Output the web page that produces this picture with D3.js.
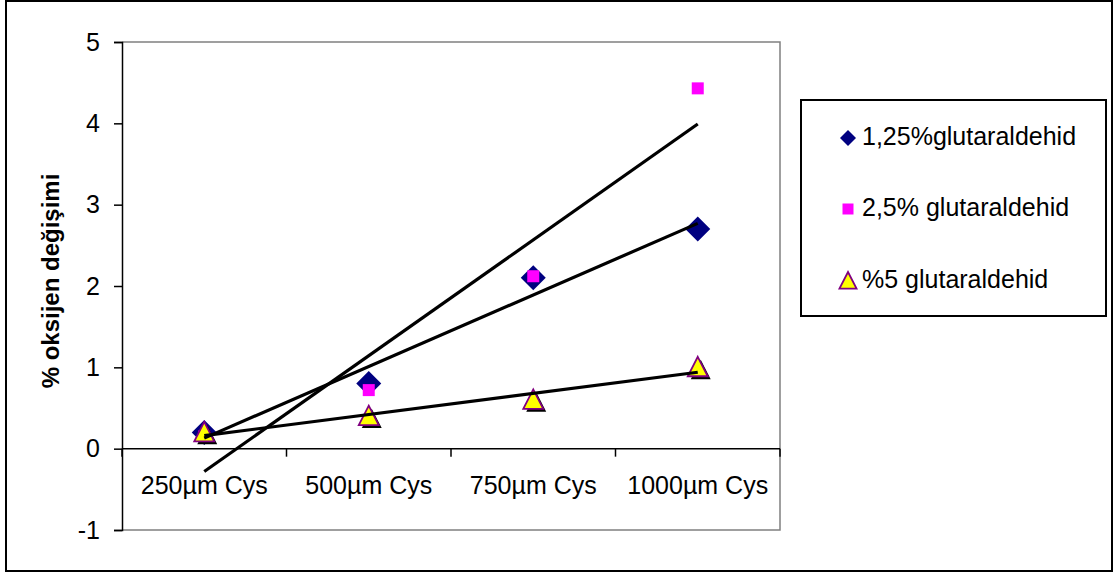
<!DOCTYPE html>
<html>
<head>
<meta charset="utf-8">
<script src="https://cdn.jsdelivr.net/npm/d3@7/dist/d3.min.js"></script>
<style>
  html, body { margin: 0; padding: 0; background: #fff; }
  svg { display: block; font-family: "Liberation Sans", Arial, sans-serif; }
</style>
</head>
<body>
<svg id="chart" width="1118" height="577"></svg>
<script>
// Category labels and the three measured series
const categories = ["250µm Cys", "500µm Cys", "750µm Cys", "1000µm Cys"];
const seriesNames = ["1,25%glutaraldehid", "2,5% glutaraldehid", "%5 glutaraldehid"];
const glut125 = [0.2, 0.8, 2.1, 2.7];
const glut25 = [0.15, 0.72, 2.12, 4.43];
const glut5 = [0.2, 0.4, 0.6, 1.0];
const yTicks = [-1, 0, 1, 2, 3, 4, 5];

const svg = d3.select("#chart");
const plot = { left: 122, right: 780, top: 42, bottom: 530 };
const labelSize = 25;

// Outer chart frame
svg.append("rect")
  .attr("x", 6).attr("y", 1).attr("width", 1106).attr("height", 570)
  .attr("fill", "#fff").attr("stroke", "#000").attr("stroke-width", 2);

const xBand = d3.scaleBand().domain(categories).range([plot.left, plot.right]);
const xPos = d => xBand(d) + xBand.bandwidth() / 2;
const y = d3.scaleLinear().domain([-1, 5]).range([plot.bottom, plot.top]);

// Plot-area border (top, right, bottom in grey)
svg.append("path")
  .attr("d", `M${plot.left},${plot.top}H${plot.right}V${plot.bottom}H${plot.left}`)
  .attr("fill", "none").attr("stroke", "#808080").attr("stroke-width", 1.5);

// Y axis
const yAxis = d3.axisLeft(y).tickValues(yTicks).tickSize(8).tickPadding(14).tickFormat(d => String(d));
const yg = svg.append("g").attr("transform", `translate(${plot.left},0)`).call(yAxis);
yg.select(".domain").attr("stroke", "#000").attr("stroke-width", 1.5);
yg.selectAll(".tick line").attr("stroke", "#000").attr("stroke-width", 1.5);
yg.selectAll(".tick text").attr("font-size", labelSize).attr("fill", "#000")
  .attr("font-family", "'Liberation Sans', Arial, sans-serif");

// X axis at value 0, with tick marks on the category boundaries
const xg = svg.append("g").attr("transform", `translate(0,${y(0)})`);
xg.append("line").attr("x1", plot.left).attr("x2", plot.right)
  .attr("stroke", "#000").attr("stroke-width", 1.5);
const bounds = categories.map(c => xBand(c)).concat([plot.right]);
xg.selectAll("line.tk").data(bounds).join("line").attr("class", "tk")
  .attr("x1", d => d).attr("x2", d => d).attr("y1", 0).attr("y2", 8)
  .attr("stroke", "#000").attr("stroke-width", 1.5);
xg.selectAll("text").data(categories).join("text")
  .attr("x", d => xPos(d)).attr("y", 45)
  .attr("text-anchor", "middle").attr("font-size", labelSize).attr("fill", "#000")
  .text(d => d);

// Y axis title
svg.append("text")
  .attr("transform", `translate(59,${(plot.top + plot.bottom) / 2 - 5}) rotate(-90)`)
  .attr("text-anchor", "middle").attr("font-size", 24).attr("font-weight", "bold")
  .attr("fill", "#000").text("% oksijen değişimi");

// Marker shapes
const diamond = s => `M0,${-s}L${s},0L0,${s}L${-s},0Z`;
const square = s => `M${-s},${-s}H${s}V${s}H${-s}Z`;
const triangle = s => `M0,${-s}L${s * 0.95},${s * 0.85}H${-s * 0.95}Z`;

function drawMarkers(values, cls, draw) {
  const g = svg.append("g").attr("class", cls);
  values.forEach((v, i) => {
    const m = g.append("g").attr("transform", `translate(${xPos(categories[i])},${y(v)})`);
    draw(m);
  });
}

drawMarkers(glut125, "s1", m => m.append("path").attr("d", diamond(12.5)).attr("fill", "#000080"));
drawMarkers(glut25, "s2", m => m.append("path").attr("d", square(6)).attr("fill", "#ff00ff"));
drawMarkers(glut5, "s3", m => {
  m.append("path").attr("d", triangle(10.5)).attr("transform", "translate(3,3)").attr("fill", "#000");
  m.append("path").attr("d", triangle(10.5)).attr("fill", "#ffff00")
    .attr("stroke", "#800080").attr("stroke-width", 1.8).attr("stroke-linejoin", "miter");
});

// Linear trend lines (least squares over category index)
function trend(values) {
  const xs = values.map((_, i) => i + 1);
  const mx = d3.mean(xs), my = d3.mean(values);
  const slope = d3.sum(xs, (x, i) => (x - mx) * (values[i] - my)) / d3.sum(xs, x => (x - mx) ** 2);
  const icpt = my - slope * mx;
  return xs.map(x => slope * x + icpt);
}
[glut125, glut25, glut5].forEach(vals => {
  const t = trend(vals);
  svg.append("path").datum([t[0], t[t.length - 1]])
    .attr("d", d3.line().x((d, i) => xPos(categories[i === 0 ? 0 : categories.length - 1])).y(d => y(d)))
    .attr("fill", "none").attr("stroke", "#000").attr("stroke-width", 3.2);
});

// Legend
const legend = svg.append("g");
legend.append("rect").attr("x", 801).attr("y", 100).attr("width", 305).attr("height", 216)
  .attr("fill", "#fff").attr("stroke", "#000").attr("stroke-width", 2);
const legendRows = [145, 216, 288];
const legendMarkers = [
  g => g.append("path").attr("d", diamond(8)).attr("fill", "#000080"),
  g => g.append("path").attr("d", square(5.5)).attr("fill", "#ff00ff"),
  g => g.append("path").attr("d", triangle(9)).attr("fill", "#ffff00")
        .attr("stroke", "#800080").attr("stroke-width", 1.8)
];
seriesNames.forEach((name, i) => {
  const g = legend.append("g").attr("transform", `translate(848,${legendRows[i] - 7})`);
  legendMarkers[i](g);
  legend.append("text").attr("x", 862).attr("y", legendRows[i])
    .attr("font-size", labelSize).attr("fill", "#000").text(name);
});
</script>
</body>
</html>
